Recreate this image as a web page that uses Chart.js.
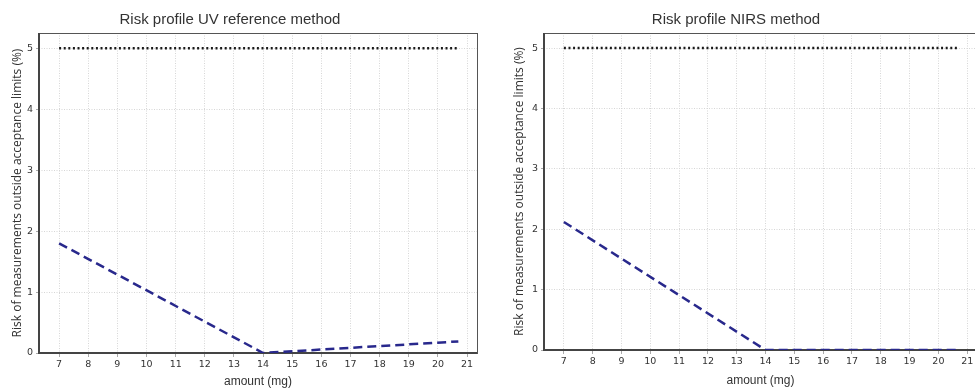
<!DOCTYPE html>
<html>
<head>
<meta charset="utf-8">
<script src="https://cdn.jsdelivr.net/npm/chart.js@4/dist/chart.umd.min.js"></script>
<style>
  html, body { margin: 0; padding: 0; background: #fff; }
  body { width: 975px; height: 390px; overflow: hidden; position: relative; }
  .panel { position: absolute; top: 0; height: 390px; }
  .panel canvas { position: absolute; left: 0; top: 0; }
  .title { position: absolute; top: 10px; font: 15px "Liberation Sans", Arial, sans-serif; color: #333; white-space: nowrap; transform: translateX(-50%); }
</style>
</head>
<body>
<div class="panel" id="p1" style="left:0;width:487px"><canvas id="c1" width="487" height="390"></canvas></div>
<div class="panel" id="p2" style="left:485px;width:515px"><canvas id="c2" width="515" height="390"></canvas></div>
<div class="title" style="left:230px">Risk profile UV reference method</div>
<div class="title" style="left:736px">Risk profile NIRS method</div>
<script>
// Amounts (mg) at which the risk was evaluated
const amounts = [7, 14, 20.7];
// Risk of measurements outside acceptance limits (%)
const uvRisk = [1.8, 0, 0.19];
const nirsRisk = [2.12, 0, 0];
// Maximum accepted risk
const limitX = [7, 20.7];
const limitY = [5, 5];
// Tick labels
const xTicks = [7, 8, 9, 10, 11, 12, 13, 14, 15, 16, 17, 18, 19, 20, 21];
const yTicks = [0, 1, 2, 3, 4, 5];

const yTitle = 'Risk of measurements outside acceptance limits (%)';
const xTitle = 'amount (mg)';

const pts = (xs, ys) => xs.map((x, i) => ({ x: x, y: ys[i] }));

// Plot frame: thin border, heavier left and bottom axes
const framePlugin = {
  id: 'frame',
  beforeDatasetsDraw(chart) {
    const { ctx, chartArea: a } = chart;
    ctx.save();
    ctx.strokeStyle = '#555';
    ctx.lineWidth = 1;
    ctx.strokeRect(a.left + 0.5, a.top + 0.5, a.right - a.left, a.bottom - a.top);
    ctx.lineWidth = 2;
    ctx.strokeStyle = '#444';
    ctx.beginPath();
    ctx.moveTo(a.left, a.top);
    ctx.lineTo(a.left, a.bottom);
    ctx.lineTo(a.right, a.bottom);
    ctx.stroke();
    ctx.restore();
  }
};

function makeChart(id, risk, geo) {
  return new Chart(document.getElementById(id), {
    type: 'line',
    data: {
      datasets: [
        {
          data: pts(limitX, limitY),
          borderColor: '#1a1a1a',
          borderWidth: 2.5,
          borderDash: [2, 2.6],
          pointRadius: 0,
          tension: 0
        },
        {
          data: pts(amounts, risk),
          borderColor: '#28288c',
          borderWidth: 2.5,
          borderDash: [9, 5],
          pointRadius: 0,
          tension: 0
        }
      ]
    },
    options: {
      responsive: false,
      animation: false,
      events: [],
      layout: { padding: { top: 33, right: geo.right, bottom: 0, left: 0 } },
      plugins: { legend: { display: false }, tooltip: { enabled: false } },
      scales: {
        x: {
          type: 'linear',
          min: 6.31,
          max: 21.34,
          afterBuildTicks: s => { s.ticks = xTicks.map(v => ({ value: v })); },
          afterFit: s => { s.height = geo.xh; },
          grid: { color: '#d6d6d6', tickColor: '#aaa', tickLength: 4, lineWidth: 1 },
          border: { display: false, dash: [1, 1.5] },
          ticks: { font: { family: 'DejaVu Sans', size: 9.5 }, color: '#333', padding: 2, maxRotation: 0, autoSkip: false },
          title: { display: true, text: xTitle, font: { family: 'Liberation Sans', size: 12 }, color: '#333', padding: { top: 0, bottom: geo.xtb } }
        },
        y: {
          type: 'linear',
          min: 0,
          max: 5.25,
          afterBuildTicks: s => { s.ticks = yTicks.map(v => ({ value: v })); },
          afterFit: s => { s.width = geo.yw; },
          grid: { color: '#d6d6d6', tickColor: '#aaa', tickLength: 3, lineWidth: 1 },
          border: { display: false, dash: [1, 1.5] },
          ticks: { font: { family: 'DejaVu Sans', size: 9.5 }, color: '#333', padding: 3 },
          title: { display: true, text: yTitle, font: { family: 'Open Sans', size: 12 }, color: '#333', padding: { top: geo.ytp, bottom: 0 } }
        }
      }
    },
    plugins: [framePlugin]
  });
}

makeChart('c1', uvRisk, { right: 10, xh: 37, yw: 39, ytp: 10, xtb: 1 });
makeChart('c2', nirsRisk, { right: 23, xh: 40, yw: 59, ytp: 27, xtb: 2 });
</script>
</body>
</html>
